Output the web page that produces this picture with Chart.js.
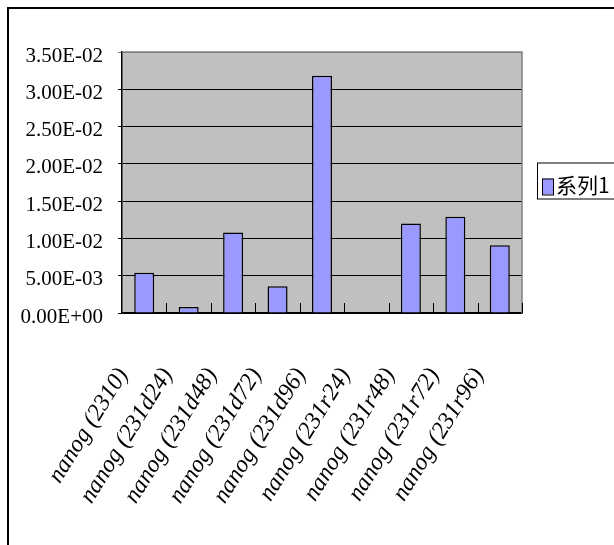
<!DOCTYPE html>
<html>
<head>
<meta charset="utf-8">
<script src="https://cdn.jsdelivr.net/npm/chart.js@4"></script>
<style>
  html, body { margin: 0; padding: 0; background: #fff; }
  #wrap { position: relative; width: 614px; height: 545px; }
</style>
</head>
<body>
<div id="wrap"><canvas id="c"></canvas></div>
<script>
  // data
  const categories = ['nanog (2310)', 'nanog (231d24)', 'nanog (231d48)', 'nanog (231d72)', 'nanog (231d96)',
                      'nanog (231r24)', 'nanog (231r48)', 'nanog (231r72)', 'nanog (231r96)'];
  const series1 = [0.0054, 0.0008, 0.0108, 0.0036, 0.0318, 0, 0.0120, 0.0129, 0.0091];
  const seriesName = '系列1';
  const yTickLabels = ['0.00E+00', '5.00E-03', '1.00E-02', '1.50E-02', '2.00E-02', '2.50E-02', '3.00E-02', '3.50E-02'];

  const barFill = '#9999ff';

  // frame, plot background, inner x ticks, legend
  const decor = {
    id: 'decor',
    beforeDraw(chart) {
      const { ctx, chartArea: a } = chart;
      ctx.save();
      ctx.fillStyle = '#fff';
      ctx.fillRect(0, 0, chart.width, chart.height);
      ctx.strokeStyle = '#000';
      ctx.lineWidth = 2;
      ctx.strokeRect(8, 8, chart.width + 20, chart.height + 20);
      ctx.fillStyle = '#c0c0c0';
      ctx.fillRect(a.left, a.top, a.right - a.left, a.bottom - a.top);
      ctx.restore();
    },
    afterDatasetsDraw(chart) {
      const { ctx, chartArea: a } = chart;
      const xs = chart.scales.x;
      ctx.save();
      // plot border top/right
      ctx.strokeStyle = '#808080';
      ctx.lineWidth = 1.5;
      ctx.beginPath();
      ctx.moveTo(a.left, a.top); ctx.lineTo(a.right, a.top); ctx.lineTo(a.right, a.bottom);
      ctx.stroke();
      // category ticks pointing up
      ctx.strokeStyle = '#000';
      ctx.lineWidth = 1;
      for (let i = 1; i <= categories.length; i++) {
        const x = Math.round(xs.getPixelForValue(i - 0.5)) + 0.5;
        ctx.beginPath();
        ctx.moveTo(x, a.bottom); ctx.lineTo(x, a.bottom - 10);
        ctx.stroke();
      }
      // legend
      const lx = a.right + 15, lh = 36, ly = (a.top + a.bottom) / 2 - lh / 2 - 2;
      ctx.lineWidth = 1;
      ctx.strokeRect(lx + 0.5, ly + 0.5, chart.width, lh);
      ctx.fillStyle = barFill;
      ctx.fillRect(lx + 5, ly + 16, 11, 16);
      ctx.strokeStyle = '#000';
      ctx.strokeRect(lx + 5.5, ly + 16.5, 11, 16);
      ctx.fillStyle = '#000';
      ctx.font = '21px "Noto Sans CJK SC"';
      ctx.textBaseline = 'middle';
      ctx.fillText(chart.data.datasets[0].label, lx + 19, ly + 23);
      ctx.restore();
    }
  };

  new Chart(document.getElementById('c'), {
    type: 'bar',
    data: {
      labels: categories,
      datasets: [{
        label: seriesName,
        data: series1,
        backgroundColor: barFill,
        borderColor: '#000',
        borderWidth: 1.5,
        barPercentage: 0.45,
        categoryPercentage: 1
      }]
    },
    options: {
      responsive: true,
      maintainAspectRatio: false,
      animation: false,
      layout: { padding: { top: 52, right: 92, left: 0, bottom: 0 } },
      plugins: { legend: { display: false }, tooltip: { enabled: false } },
      scales: {
        x: {
          offset: true,
          afterFit: s => { s.height = 232; },
          grid: { display: false },
          border: { color: '#000', width: 1.5 },
          ticks: {
            color: '#000',
            minRotation: 58, maxRotation: 58,
            autoSkip: false,
            padding: 42,
            labelOffset: -21,
            font: { family: 'Liberation Serif', size: 24, style: 'italic' }
          }
        },
        y: {
          min: 0, max: 0.035,
          afterFit: s => { s.width = 122; },
          border: { color: '#000', width: 1.5 },
          grid: {
            color: c => (c.tick && c.tick.value >= 0.0349) ? '#808080' : '#000',
            lineWidth: 1,
            tickLength: 4,
            drawTicks: true
          },
          ticks: {
            stepSize: 0.005,
            color: '#000',
            padding: 15,
            labelOffset: 4,
            font: { family: 'Liberation Serif', size: 21 },
            callback: (v, i) => yTickLabels[i]
          }
        }
      }
    },
    plugins: [decor]
  });
</script>
</body>
</html>
